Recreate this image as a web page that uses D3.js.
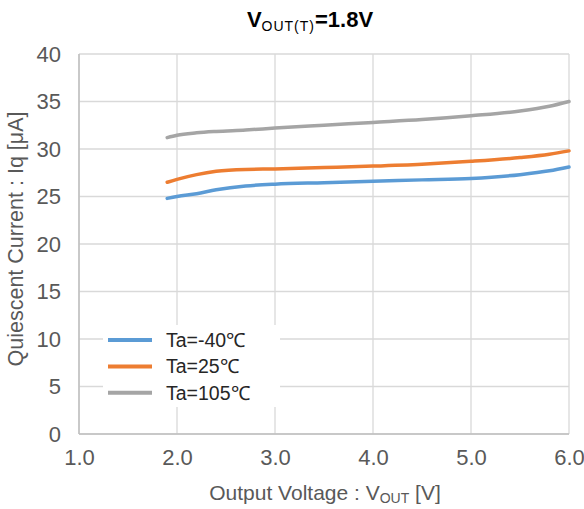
<!DOCTYPE html>
<html><head><meta charset="utf-8">
<script src="https://cdn.jsdelivr.net/npm/d3@7"></script>
<style>body{margin:0;background:#fff}svg{display:block}text{font-family:"Liberation Sans",Arial,sans-serif}</style>
</head><body><svg id="c" width="584" height="509"></svg>
<script>
const xTicks = [1.0, 2.0, 3.0, 4.0, 5.0, 6.0];
const yTicks = [0, 5, 10, 15, 20, 25, 30, 35, 40];
const seriesNames = ["Ta=-40\u2103", "Ta=25\u2103", "Ta=105\u2103"];
const seriesColors = ["#5b9bd5", "#ed7d31", "#a5a5a5"];
const vout = [1.9, 2.0, 2.2, 2.4, 2.7, 3.0, 3.5, 4.0, 4.5, 5.0, 5.5, 5.8, 6.0];
const iqM40 = [24.8, 25.0, 25.3, 25.7, 26.1, 26.3, 26.45, 26.6, 26.75, 26.9, 27.3, 27.7, 28.1];
const iq25 = [26.5, 26.8, 27.3, 27.65, 27.85, 27.9, 28.05, 28.2, 28.4, 28.7, 29.1, 29.45, 29.8];
const iq105 = [31.2, 31.45, 31.7, 31.85, 32.0, 32.2, 32.5, 32.8, 33.1, 33.5, 34.0, 34.5, 35.0];
const allSeries = [iqM40, iq25, iq105];

const svg = d3.select("#c");
const L = 79, R = 569, T = 54, B = 434;
const x = d3.scaleLinear().domain([1, 6]).range([L, R]);
const y = d3.scaleLinear().domain([0, 40]).range([B, T]);

// grid
svg.append("g").selectAll("line.h").data(yTicks).join("line")
  .attr("x1", L).attr("x2", R).attr("y1", d => y(d)).attr("y2", d => y(d))
  .attr("stroke", "#d9d9d9").attr("stroke-width", 1.3);
svg.append("g").selectAll("line.v").data(xTicks).join("line")
  .attr("y1", T).attr("y2", B).attr("x1", d => x(d)).attr("x2", d => x(d))
  .attr("stroke", "#d9d9d9").attr("stroke-width", 1.3);
// axes lines
svg.append("line").attr("x1", L).attr("x2", L).attr("y1", T).attr("y2", B).attr("stroke", "#bfbfbf").attr("stroke-width", 1.5);
svg.append("line").attr("x1", L).attr("x2", R).attr("y1", B).attr("y2", B).attr("stroke", "#bfbfbf").attr("stroke-width", 1.5);

// tick labels via axes
const ya = svg.append("g").attr("transform", `translate(${L},0)`)
  .call(d3.axisLeft(y).tickValues(yTicks).tickFormat(d3.format("d")).tickSize(0).tickPadding(18));
ya.select(".domain").remove();
ya.selectAll("text").attr("font-size", 22).attr("fill", "#595959").attr("font-family", "Liberation Sans, Arial");
const xa = svg.append("g").attr("transform", `translate(0,${B})`)
  .call(d3.axisBottom(x).tickValues(xTicks).tickFormat(d3.format(".1f")).tickSize(0).tickPadding(15));
xa.select(".domain").remove();
xa.selectAll("text").attr("font-size", 22).attr("fill", "#595959").attr("font-family", "Liberation Sans, Arial");

// lines
const line = d3.line().x((d, i) => x(vout[i])).y(d => y(d)).curve(d3.curveMonotoneX);
svg.append("g").selectAll("path").data(allSeries).join("path")
  .attr("d", d => line(d)).attr("fill", "none")
  .attr("stroke", (d, i) => seriesColors[i]).attr("stroke-width", 3.5).attr("stroke-linecap", "round");

// legend
const lg = svg.append("g");
lg.append("rect").attr("x", 103).attr("y", 325).attr("width", 177).attr("height", 82).attr("fill", "#fff");
const items = lg.selectAll("g").data(seriesNames).join("g")
  .attr("transform", (d, i) => `translate(0,${340 + i * 26.4})`);
items.append("line").attr("x1", 108).attr("x2", 152).attr("stroke", (d, i) => seriesColors[i]).attr("stroke-width", 4);
items.append("text").attr("x", 166).attr("y", 7).attr("font-size", 19.5).attr("fill", "#262626").text(d => d);

// title
const t = svg.append("text").attr("x", 310).attr("y", 27).attr("text-anchor", "middle")
  .attr("font-size", 22).attr("font-weight", "bold").attr("fill", "#000");
t.append("tspan").text("V");
t.append("tspan").attr("font-size", 14).attr("font-weight", "normal").attr("letter-spacing", 1).attr("dy", 4).text("OUT(T)");
t.append("tspan").attr("dy", -4).text("=1.8V");

// x title
const xt = svg.append("text").attr("x", 325).attr("y", 500).attr("text-anchor", "middle")
  .attr("font-size", 21).attr("fill", "#595959");
xt.append("tspan").text("Output Voltage : V");
xt.append("tspan").attr("font-size", 14).attr("dy", 3).text("OUT");
xt.append("tspan").attr("dy", -3).text(" [V]");

// y title
svg.append("text").attr("transform", "translate(23,239) rotate(-90)").attr("text-anchor", "middle")
  .attr("font-size", 21.5).attr("fill", "#595959").text("Quiescent Current : Iq [\u03bcA]");
</script></body></html>
